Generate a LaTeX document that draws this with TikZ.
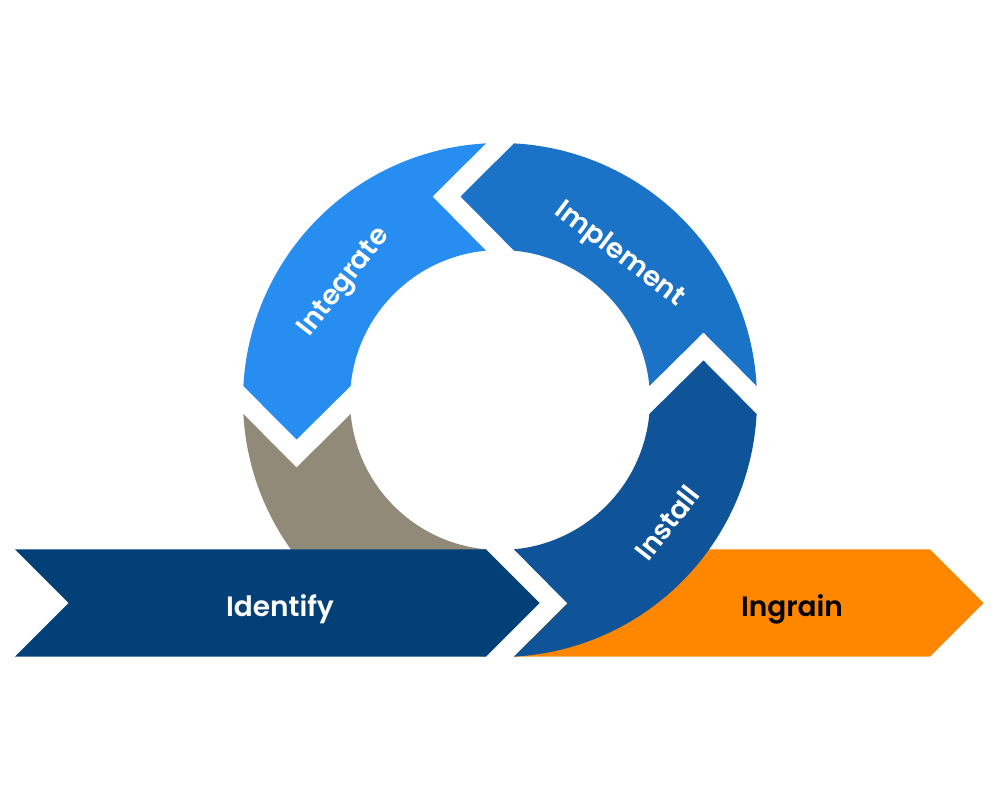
\documentclass[tikz,border=0pt]{standalone}
\usepackage{fontspec}
\newfontfamily\pop{Poppins SemiBold}
\definecolor{cIntegrate}{HTML}{288DF0}
\definecolor{cImplement}{HTML}{1B73C8}
\definecolor{cInstall}{HTML}{0F5499}
\definecolor{cIdentify}{HTML}{044078}
\definecolor{cGray}{HTML}{928A79}
\definecolor{cIngrain}{HTML}{FF8700}
\begin{document}
\begin{tikzpicture}[x=1pt,y=1pt,
  seg/.style={draw=none},
  lbl/.style={font=\pop\fontsize{27.5}{30}\selectfont, text=white, inner sep=0pt},
  barlbl/.style={lbl, font=\pop\fontsize{28}{30}\selectfont, anchor=base}]
\useasboundingbox (0,0) rectangle (1000,800);
% gray segment (lower left)
\fill[cGray] (243.38,386) arc[start angle=183.12, end angle=266.88, radius=257pt]
  -- (432.5,196.5) -- (486,250.65)
  arc[start angle=264.64, end angle=185.36, radius=150pt]
  -- (296.5,332.5) -- cycle;
% Identify bar
\fill[cIdentify] (15,250.65) -- (486,250.65) -- (539.5,197) -- (486,143.38) -- (15,143.38) -- (68.5,197) -- cycle;
% Ingrain bar
\fill[cIngrain] (514,250.65) -- (930,250.65) -- (983.5,197) -- (930,143.38) -- (514,143.38) -- (567.5,197) -- cycle;
% Integrate
\fill[cIntegrate] (486,656.62) arc[start angle=93.12, end angle=176.88, radius=257pt]
  -- (296.5,360.5) -- (350.65,414)
  arc[start angle=174.64, end angle=95.36, radius=150pt]
  -- (432.5,603.5) -- cycle;
% Implement
\fill[cImplement] (514,656.62) arc[start angle=86.88, end angle=3.12, radius=257pt]
  -- (703.5,467.5) -- (649.35,414)
  arc[start angle=5.36, end angle=84.64, radius=150pt]
  -- (460.5,603.5) -- cycle;
% Install
\fill[cInstall] (756.62,386) arc[start angle=-3.12, end angle=-86.88, radius=257pt]
  -- (567.5,196.5) -- (514,250.65)
  arc[start angle=-84.64, end angle=-5.36, radius=150pt]
  -- (703.5,439.5) -- cycle;
% labels
\node[lbl, rotate=52] (integrate) at (345,517) {Integrate};
\node[lbl, rotate=-37] (implement) at (619,545) {Implement};
\node[lbl, rotate=52] (install) at (667,277) {Install};
\node[barlbl] (identify) at (280,183) {Identify};
\node[barlbl, text=black] (ingrain) at (792,183) {Ingrain};
\end{tikzpicture}
\end{document}
